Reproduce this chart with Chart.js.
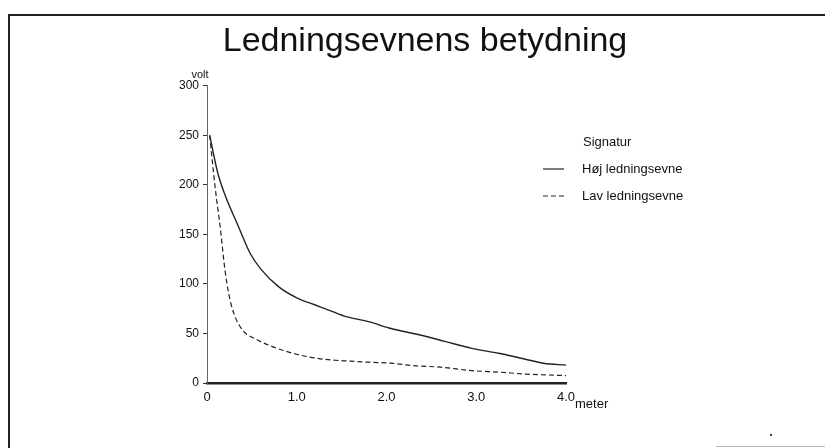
<!DOCTYPE html>
<html>
<head>
<meta charset="utf-8">
<script src="https://cdn.jsdelivr.net/npm/chart.js@4.4.1/dist/chart.umd.min.js"></script>
<style>
  html, body { margin: 0; padding: 0; background: #fff; }
  #wrap { position: relative; width: 825px; height: 448px; overflow: hidden; }
  #frame { position: absolute; left: 8px; top: 14px; width: 830px; height: 440px;
           border-top: 2px solid #222; border-left: 2px solid #222; pointer-events: none; }
  #bline { position: absolute; left: 716px; top: 446px; width: 109px; height: 1px; background: #bbb; }
  #dot { position: absolute; left: 770px; top: 434px; width: 2px; height: 2px; background: #444; }
  canvas { position: absolute; left: 0; top: 0; }
</style>
</head>
<body>
<div id="wrap">
  <canvas id="c" width="825" height="448"></canvas>
  <div id="frame"></div>
  <div id="bline"></div>
  <div id="dot"></div>
</div>
<script>
// ---- data ----
const titleText = "Ledningsevnens betydning";
const yUnit = "volt";
const xUnit = "meter";
const legendTitle = "Signatur";
const seriesNames = ["Høj ledningsevne", "Lav ledningsevne"];

const hojX = [0.03, 0.12, 0.2, 0.35, 0.48, 0.6, 0.8, 1.0, 1.2, 1.4, 1.55, 1.8, 2.05, 2.35, 2.65, 2.95, 3.25, 3.5, 3.75, 4.0];
const hojY = [250, 212, 190, 158, 131, 115, 97, 86, 79, 72, 67, 62, 55, 49, 42, 35, 30, 25, 20, 18];

const lavX = [0.03, 0.09, 0.15, 0.2, 0.24, 0.3, 0.4, 0.55, 0.75, 1.0, 1.3, 1.6, 1.8, 2.05, 2.3, 2.6, 2.95, 3.25, 3.55, 4.0];
const lavY = [250, 198, 155, 114, 91, 70, 53, 44, 36, 29, 24, 22, 21, 20, 17.5, 16, 12.5, 11, 9, 7.5];

const xTicks = [0, 1, 2, 3, 4];
const yTicks = [0, 50, 100, 150, 200, 250, 300];

function pts(xs, ys) { return xs.map((x, i) => ({ x: x, y: ys[i] })); }

const FONT = "'Liberation Sans', Arial, Helvetica, sans-serif";

const extrasPlugin = {
  id: 'extras',
  afterDraw(chart) {
    const ctx = chart.ctx;
    const xs = chart.scales.x, ys = chart.scales.y;
    ctx.save();
    ctx.fillStyle = '#111';
    // unit labels
    ctx.font = '11px ' + FONT;
    ctx.textAlign = 'center';
    ctx.textBaseline = 'alphabetic';
    ctx.fillText(yUnit, ys.right - 7, ys.top - 8);
    ctx.font = '13px ' + FONT;
    ctx.textAlign = 'left';
    ctx.fillText(xUnit, xs.right + 9, xs.top + 25);
    // legend
    const lx = 543, ly = 142;
    ctx.font = '13px ' + FONT;
    ctx.textBaseline = 'middle';
    ctx.fillText(legendTitle, lx + 40, ly);
    chart.data.datasets.forEach((ds, i) => {
      const y = ly + 27 * (i + 1);
      ctx.beginPath();
      ctx.strokeStyle = ds.borderColor;
      ctx.lineWidth = 1.2;
      ctx.setLineDash(ds.borderDash || []);
      ctx.moveTo(lx, y);
      ctx.lineTo(lx + 21, y);
      ctx.stroke();
      ctx.setLineDash([]);
      ctx.fillText(ds.label, lx + 39, y);
    });
    ctx.restore();
  }
};

new Chart(document.getElementById('c'), {
  type: 'scatter',
  data: {
    datasets: [
      {
        label: seriesNames[0],
        data: pts(hojX, hojY),
        showLine: true,
        borderColor: '#222',
        borderWidth: 1.4,
        pointRadius: 0,
        cubicInterpolationMode: 'monotone',
        fill: false
      },
      {
        label: seriesNames[1],
        data: pts(lavX, lavY),
        showLine: true,
        borderColor: '#222',
        borderWidth: 1.2,
        borderDash: [5, 3],
        pointRadius: 0,
        cubicInterpolationMode: 'monotone',
        fill: false
      }
    ]
  },
  options: {
    responsive: false,
    animation: false,
    layout: { padding: { left: 50, right: 25, top: 0, bottom: 35 } },
    plugins: {
      legend: { display: false },
      tooltip: { enabled: false },
      title: {
        display: true,
        text: titleText,
        color: '#111',
        font: { family: FONT, size: 34, weight: 'normal' },
        padding: { top: 21, bottom: 24 }
      }
    },
    scales: {
      x: {
        type: 'linear',
        min: 0, max: 4,
        afterBuildTicks(scale) { scale.ticks = xTicks.map(v => ({ value: v })); },
        afterFit(scale) { scale.height = 30; },
        ticks: {
          color: '#111',
          font: { family: FONT, size: 13 },
          padding: 7,
          maxRotation: 0,
          callback: v => (v === 0 ? '0' : v.toFixed(1))
        },
        grid: { display: true, drawOnChartArea: false, drawTicks: false },
        border: { display: true, color: '#222', width: 2.5 }
      },
      y: {
        type: 'linear',
        min: 0, max: 300,
        afterBuildTicks(scale) { scale.ticks = yTicks.map(v => ({ value: v })); },
        afterFit(scale) { scale.width = 157; },
        ticks: {
          color: '#111',
          font: { family: FONT, size: 12 },
          padding: 4
        },
        grid: { display: true, drawOnChartArea: false, drawTicks: true, tickLength: 4, color: '#333' },
        border: { display: true, color: '#666', width: 1, dash: [2, 2] }
      },
      yRight: {
        type: 'linear',
        position: 'right',
        display: true,
        min: 0, max: 300,
        afterFit(scale) { scale.width = 234; },
        ticks: { display: false },
        grid: { display: false, drawTicks: false },
        border: { display: false }
      }
    }
  },
  plugins: [extrasPlugin]
});
</script>
</body>
</html>
